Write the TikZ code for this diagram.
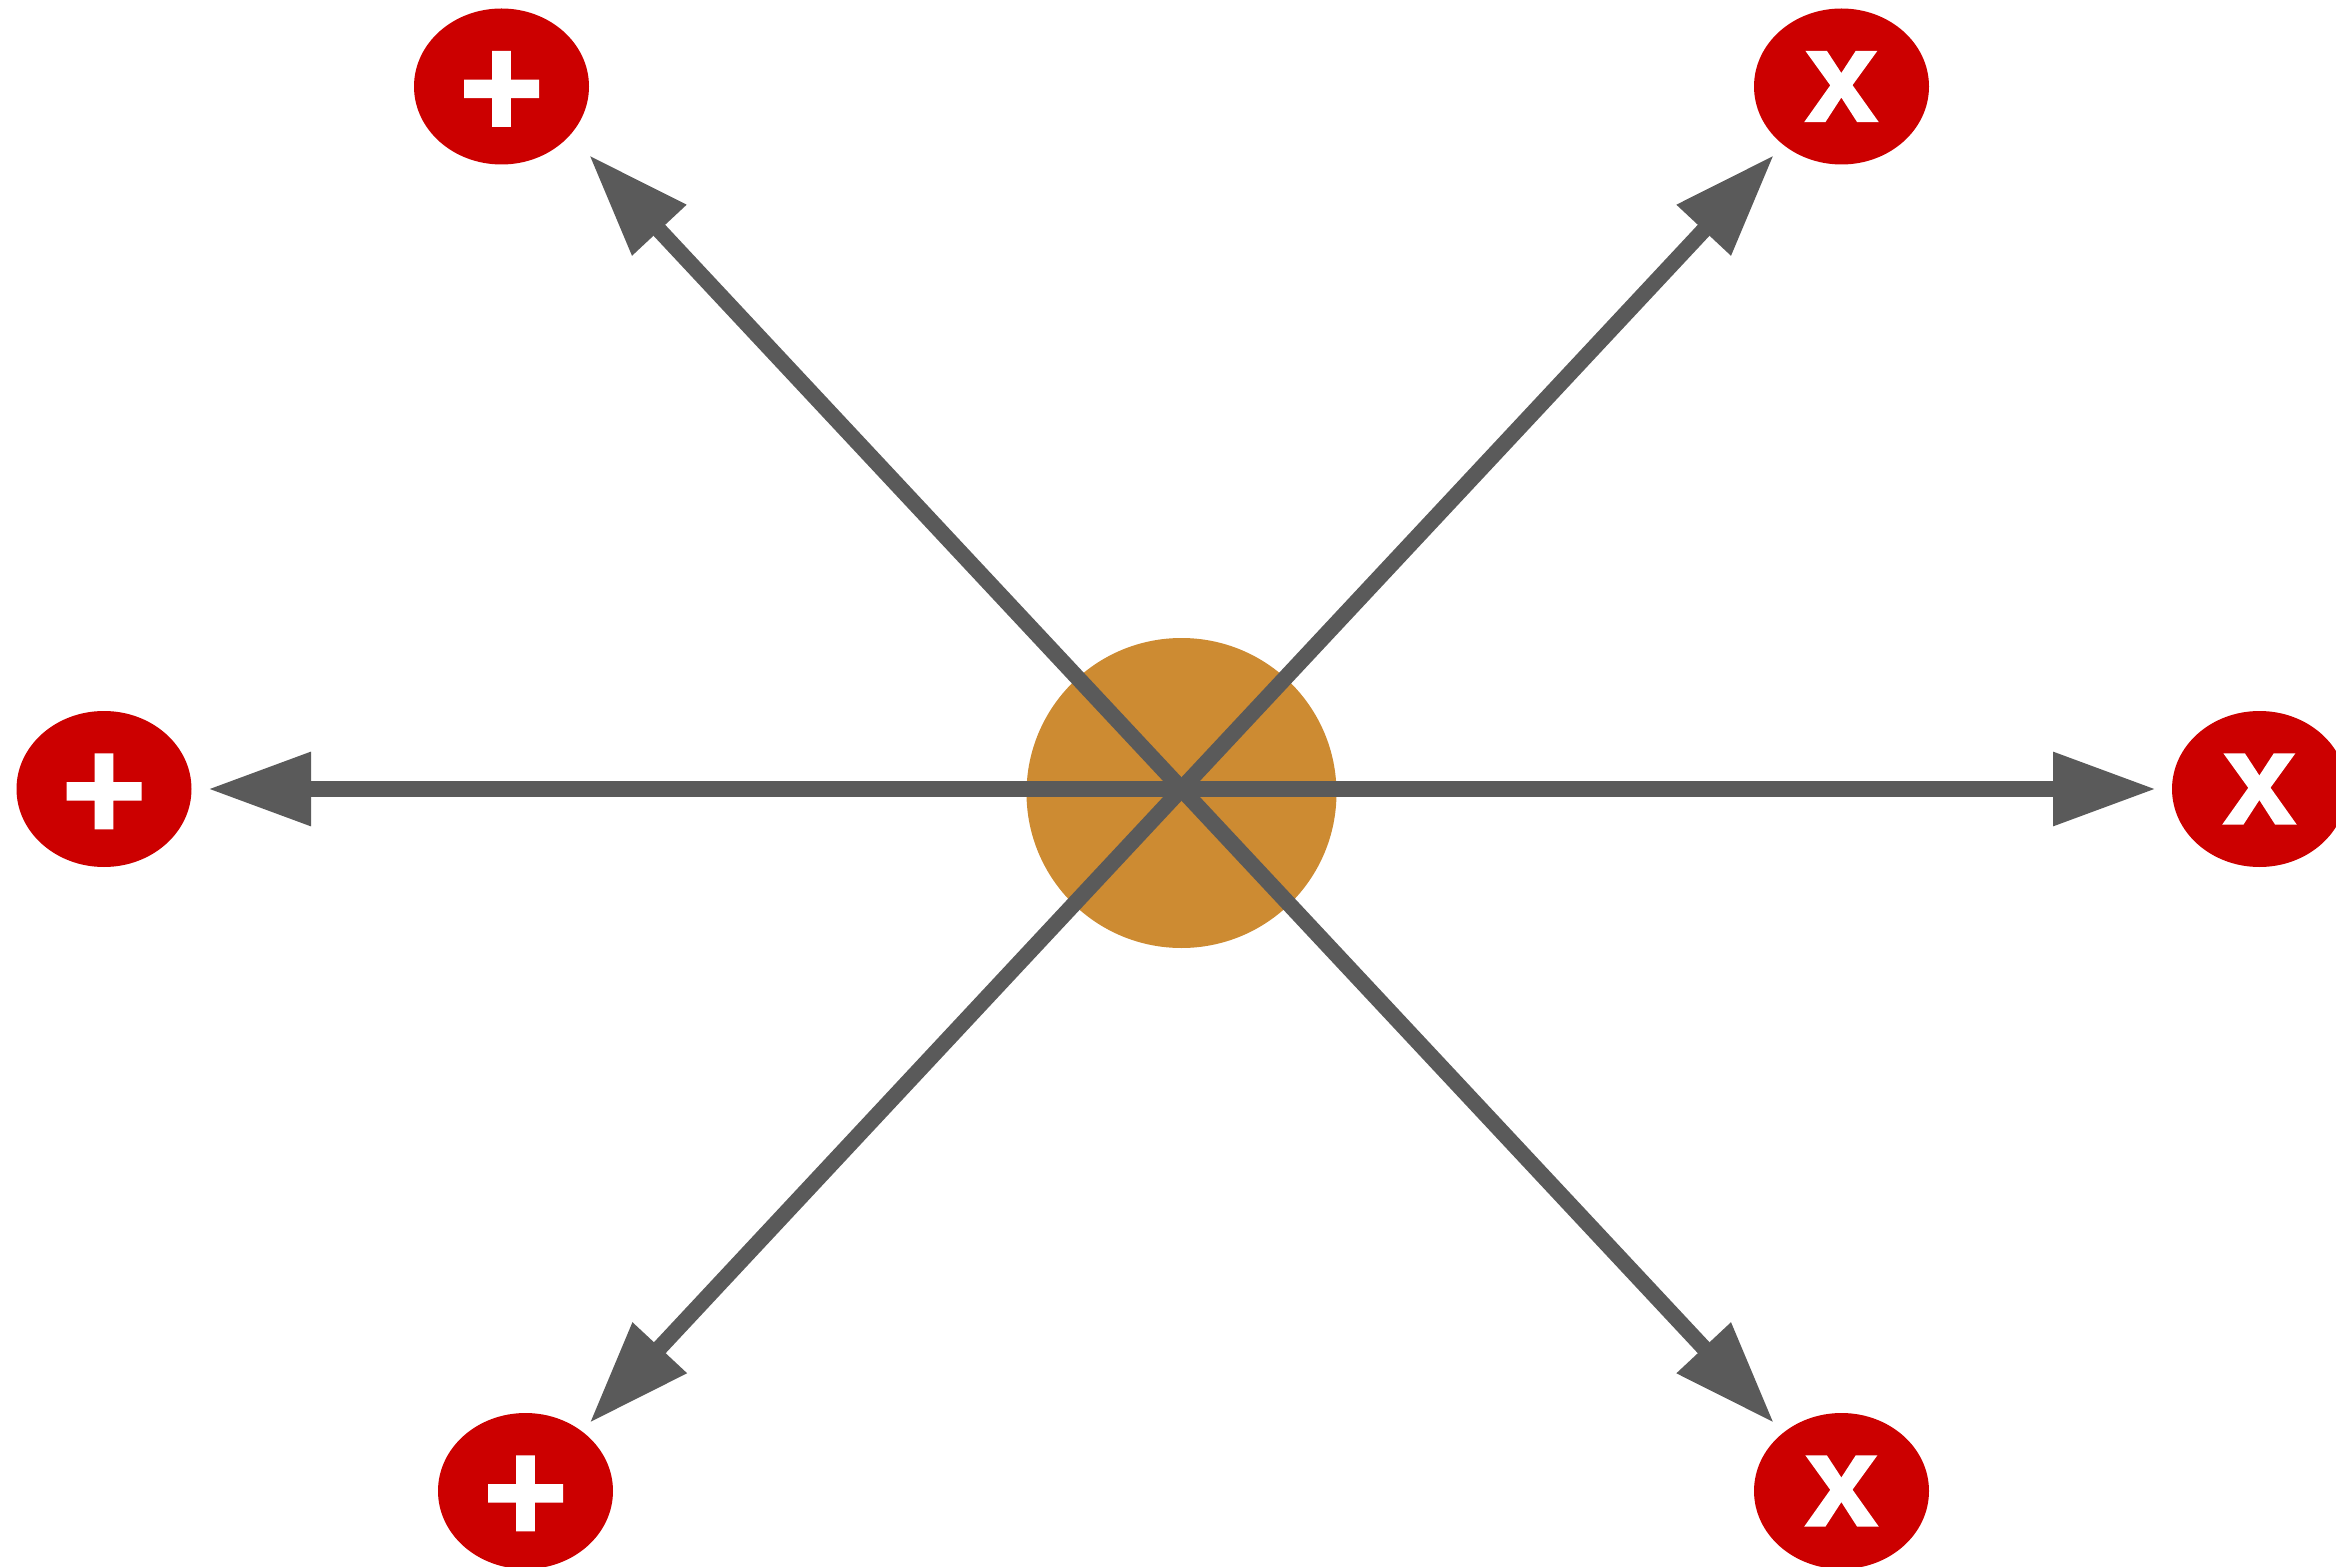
\documentclass[tikz,border=0pt]{standalone}
\usepackage{fontspec}
\setmainfont{Liberation Sans}
\newfontfamily\signfont[BoldFeatures={FakeBold=2}]{Liberation Sans}
\newfontfamily\xfont[BoldFeatures={FakeBold=1.2}]{Liberation Sans}
\usetikzlibrary{arrows.meta,shapes.geometric}
\definecolor{redc}{HTML}{CC0000}
\definecolor{grayc}{HTML}{5A5A5A}
\definecolor{orangec}{HTML}{CD8B32}
\begin{document}
\begin{tikzpicture}[x=0.5pt,y=-0.5pt,
  redell/.style={ellipse, fill=redc, minimum width=87.5pt, minimum height=78pt, inner sep=0pt},
  signx/.style={text=white, font=\xfont\fontsize{66}{66}\selectfont\bfseries, inner sep=0pt},
  signplus/.style={text=white, font=\signfont\fontsize{72}{72}\selectfont\bfseries, inner sep=0pt, yshift=-4pt},
  arr/.style={draw=grayc, line width=8pt, -{Triangle[length=51.5pt,width=35pt]}},
  core/.style={circle, fill=orangec, minimum size=155pt, inner sep=0pt}
]
\useasboundingbox (0,0) rectangle (2336,1567);
\clip (0,0) rectangle (2336,1567);

\node[core] (core) at (1181.5,793) {};
\coordinate (c) at (1181.5,789);

\coordinate (tTL) at (589,155);
\coordinate (tTR) at (1774,155);
\coordinate (tL) at (208,789);
\coordinate (tR) at (2156,789);
\coordinate (tBL) at (589.5,1423);
\coordinate (tBR) at (1774,1423);

\draw[arr] (c) -- (tTL);
\draw[arr] (c) -- (tTR);
\draw[arr] (c) -- (tL);
\draw[arr] (c) -- (tR);
\draw[arr] (c) -- (tBL);
\draw[arr] (c) -- (tBR);

\node[redell] (eTL) at (501.5,86.5) {};
\node[redell] (eTR) at (1841.5,86.5) {};
\node[redell] (eL) at (104,789) {};
\node[redell] (eR) at (2259.5,789) {};
\node[redell] (eBL) at (525.5,1491) {};
\node[redell] (eBR) at (1841.5,1491) {};

\node[signplus] (pTL) at (eTL) {+};
\node[signplus] (pL) at (eL) {+};
\node[signplus] (pBL) at (eBL) {+};
\node[signx] (xTR) at (eTR) {x};
\node[signx] (xR) at (eR) {x};
\node[signx] (xBR) at (eBR) {x};
\end{tikzpicture}
\end{document}
